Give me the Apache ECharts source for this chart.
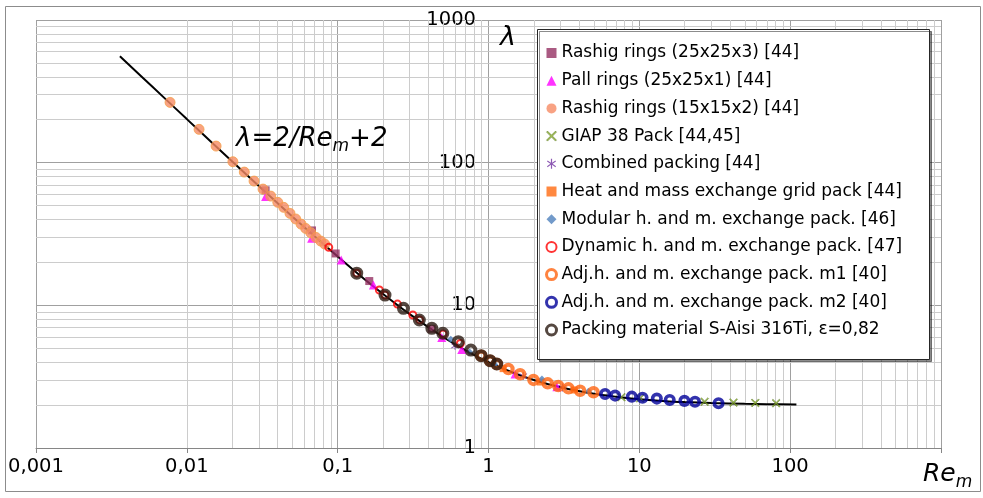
<!DOCTYPE html>
<html>
<head>
<meta charset="utf-8">
<script src="https://cdn.jsdelivr.net/npm/echarts@6/dist/echarts.min.js"></script>
<style>html,body{margin:0;padding:0;background:#fff}#c{width:983px;height:498px}</style>
</head>
<body>
<div id="c"></div>
<script>
// ---- data ----
const xTickLabels = ['0,001', '0,01', '0,1', '1', '10', '100', ''];
const yTickLabels = ['1', '10', '100', '1000'];

const curvePts = [[0.0036,557],[0.005,402],[0.007,288],[0.01,202],[0.015,135],[0.02,102],[0.03,68.7],[0.05,42],[0.07,30.6],[0.1,22],[0.15,15.3],[0.2,12],[0.3,8.67],[0.5,6],[0.7,4.86],[1,4],[1.5,3.33],[2,3],[3,2.67],[5,2.4],[7,2.29],[10,2.2],[15,2.13],[20,2.1],[30,2.07],[50,2.04],[70,2.03],[110,2.02]];

const rashig25 = [[0.0333,64],[0.0676,33.5],[0.097,23.1],[0.162,14.8],[0.42,6.85]];
const pall = [[0.0333,58],[0.0672,29.5],[0.1055,20.8],[0.1725,13.9],[0.49,5.95],[0.665,4.9],[1.5,3.3],[2.84,2.69]];
const rashig15 = [[0.00774,264.6],[0.01205,171.2],[0.01563,130.7],[0.0202,101.5],[0.02405,85.9],[0.0279,74.3],[0.032,65.3],[0.036,58.3],[0.0401,52.7],[0.0439,48.6],[0.0483,44.1],[0.0527,40.3],[0.0572,37.1],[0.0614,34.6],[0.0663,32.3],[0.0719,29.9],[0.0773,28.2],[0.082,26.9]];
const giap = [[7.6,2.27],[10.1,2.23],[27.1,2.11],[42.1,2.08],[58.7,2.07],[80.7,2.06]];
const combined = [[0.6,5.2],[1.7,3.2],[3.1,2.65]];
const heatMass = [[1.25,3.6],[2.2,2.9],[3.7,2.55]];
const modular = [[0.562,5.78],[0.75,4.7],[1.1,3.85],[2.26,3.05],[4.6,2.5]];
const dynamic = [[0.0873,25.5],[0.134,16.8],[0.189,12.8],[0.206,11.8],[0.249,10.2],[0.315,8.55],[0.35,7.9],[0.5,6.3],[0.65,5.4]];
const adjM1 = [[0.894,4.44],[1.025,4.09],[1.135,3.88],[1.355,3.58],[1.62,3.29],[1.986,3.0],[2.47,2.84],[2.9,2.72],[3.39,2.62],[4.05,2.52],[4.97,2.46]];
const adjM2 = [[5.93,2.39],[6.91,2.33],[8.91,2.29],[10.5,2.25],[13.06,2.22],[15.9,2.17],[19.9,2.14],[23.4,2.11],[33.5,2.06]];
const packing = [[0.1338,16.8],[0.206,11.8],[0.273,9.53],[0.348,7.89],[0.421,6.9],[0.498,6.37],[0.631,5.56],[0.764,4.86],[0.894,4.44],[1.025,4.09],[1.135,3.88]];

const names = [
  'Rashig rings (25x25x3) [44]',
  'Pall rings (25x25x1) [44]',
  'Rashig rings (15x15x2) [44]',
  'GIAP 38 Pack [44,45]',
  'Combined packing [44]',
  'Heat and mass exchange grid pack [44]',
  'Modular h. and m. exchange pack. [46]',
  'Dynamic h. and m. exchange pack. [47]',
  'Adj.h. and m. exchange pack. m1 [40]',
  'Adj.h. and m. exchange pack. m2 [40]',
  'Packing material S-Aisi 316Ti, \u03B5=0,82'
];

// minor grid positions (2..9 within each decade)
const xMinor = [], yMinor = [];
for (let e = -3; e < 3; e++) for (let k = 2; k <= 9; k++) xMinor.push(+(k * Math.pow(10, e)).toPrecision(3));
for (let e = 0; e < 3; e++) for (let k = 2; k <= 9; k++) yMinor.push(+(k * Math.pow(10, e)).toPrecision(3));

const FONT = 'DejaVu Sans';
const MAJOR = '#a0a0a0', MINOR = '#cccccc';

const xPath = 'path://M0,1 L1,0 L5,4 L9,0 L10,1 L6,5 L10,9 L9,10 L5,6 L1,10 L0,9 L4,5 Z';
const starPath = 'path://M4.4,0 H5.6 V4 L8.9,1.6 L9.5,2.6 L6.1,5 L9.5,7.4 L8.9,8.4 L5.6,6 V10 H4.4 V6 L1.1,8.4 L0.5,7.4 L3.9,5 L0.5,2.6 L1.1,1.6 L4.4,4 Z';

function sc(name, data, symbol, size, itemStyle, z) {
  return { name, type: 'scatter', data, symbol, symbolSize: size, itemStyle, z: z, animation: false };
}
const ring = (c, bw) => ({ color: 'rgba(0,0,0,0)', borderColor: c, borderWidth: bw });

const series = [
  {
    name: 'curve', type: 'line', data: curvePts, showSymbol: false, smooth: 0.3, z: 2,
    lineStyle: { color: '#000', width: 2 }, animation: false, silent: true,
    markLine: {
      silent: true, z: 1, symbol: ['none', 'none'], animation: false,
      label: { show: false },
      lineStyle: { color: MINOR, width: 1, type: 'solid' },
      emphasis: { disabled: true },
      data: xMinor.map(v => ({ xAxis: v })).concat(yMinor.map(v => ({ yAxis: v })))
    }
  },
  sc(names[0], rashig25, 'rect', 8, { color: '#953163' }, 3),
  sc(names[1], pall, 'triangle', 9, { color: '#ff00ff' }, 3),
  sc(names[2], rashig15, 'circle', 10, { color: '#f68b64', borderColor: '#f5a04a', borderWidth: 1 }, 3),
  sc(names[3], giap, xPath, 8, { color: '#8fb128', borderColor: '#4e6b1f', borderWidth: 0.6 }, 3),
  sc(names[4], combined, starPath, 8, { color: '#7030a0' }, 3),
  sc(names[5], heatMass, 'rect', 7, { color: '#ff6a10' }, 3),
  sc(names[6], modular, 'diamond', 7, { color: '#4f81bd' }, 3),
  sc(names[7], dynamic, 'circle', 7, ring('#ff0000', 2), 3),
  sc(names[8], adjM1, 'circle', 8.5, ring('#ff6410', 4), 3),
  sc(names[9], adjM2, 'circle', 8.5, ring('#000099', 3.6), 3),
  sc(names[10], packing, 'circle', 9, ring('#2a1a12', 4), 3)
];

const legendIcons = [
  { icon: 'rect', itemStyle: { color: '#953163' } },
  { icon: 'triangle', itemStyle: { color: '#ff00ff' } },
  { icon: 'circle', itemStyle: { color: '#f68b64', borderWidth: 0 } },
  { icon: xPath, itemStyle: { color: '#8fb128', borderColor: '#4e6b1f', borderWidth: 0.6 } },
  { icon: starPath, itemStyle: { color: '#7030a0' } },
  { icon: 'rect', itemStyle: { color: '#ff6a10' } },
  { icon: 'diamond', itemStyle: { color: '#4f81bd' } },
  { icon: 'circle', itemStyle: { color: 'rgba(0,0,0,0)', borderColor: '#ff0000', borderWidth: 2 } },
  { icon: 'circle', itemStyle: { color: 'rgba(0,0,0,0)', borderColor: '#ff6410', borderWidth: 3 } },
  { icon: 'circle', itemStyle: { color: 'rgba(0,0,0,0)', borderColor: '#000099', borderWidth: 3 } },
  { icon: 'circle', itemStyle: { color: 'rgba(0,0,0,0)', borderColor: '#2a1a12', borderWidth: 3 } }
];

const chart = echarts.init(document.getElementById('c'), null, { renderer: 'canvas' });
chart.setOption({
  animation: false,
  backgroundColor: '#fff',
  textStyle: { fontFamily: FONT },
  grid: { left: 36, right: 42, top: 20, bottom: 50, containLabel: false },
  xAxis: {
    type: 'log', logBase: 10, min: 0.001, max: 1000,
    axisLine: { show: true, onZero: false, lineStyle: { color: '#868686', width: 1 } },
    axisTick: { show: true, length: 5, lineStyle: { color: '#868686' } },
    axisLabel: {
      fontFamily: FONT, fontSize: 19.5, color: '#000', margin: 9,
      formatter: v => xTickLabels[Math.round(Math.log10(v)) + 3]
    },
    splitLine: { show: true, lineStyle: { color: MAJOR, width: 1 } },
    minorTick: { show: false }, minorSplitLine: { show: false }
  },
  yAxis: {
    type: 'log', logBase: 10, min: 1, max: 1000,
    axisLine: { show: false }, axisTick: { show: false },
    axisLabel: {
      fontFamily: FONT, fontSize: 19.5, color: '#000', margin: -440,
      formatter: v => yTickLabels[Math.round(Math.log10(v))]
    },
    splitLine: { show: true, lineStyle: { color: MAJOR, width: 1 } },
    minorTick: { show: false }, minorSplitLine: { show: false }
  },
  legend: {
    show: true, orient: 'vertical', left: 545, top: 43, z: 60,
    padding: 0, itemGap: 7.7, itemWidth: 10, itemHeight: 10,
    textStyle: { fontFamily: FONT, fontSize: 17, color: '#000', lineHeight: 20 },
    selectedMode: false,
    data: names.map((n, i) => Object.assign({ name: n }, legendIcons[i]))
  },
  graphic: [
    { type: 'rect', z: 0, silent: true, shape: { x: 5.5, y: 6.5, width: 975, height: 485 },
      style: { fill: 'none', stroke: '#8c8c8c', lineWidth: 1 } },
    { type: 'rect', z: 50, silent: true, shape: { x: 537.5, y: 29.5, width: 392, height: 330 },
      style: { fill: '#fff', stroke: '#262626', lineWidth: 1, shadowColor: 'rgba(0,0,0,0.45)', shadowOffsetX: 2, shadowOffsetY: 2, shadowBlur: 0 } },
    { type: 'text', z: 55, silent: true, left: 236, top: 126,
      style: {
        text: '{a|\u03BB=2/Re}{s|m}{a|+2}',
        rich: {
          a: { fontFamily: FONT, fontStyle: 'italic', fontSize: 26, color: '#000', verticalAlign: 'top', lineHeight: 30 },
          s: { fontFamily: FONT, fontStyle: 'italic', fontSize: 17, color: '#000', verticalAlign: 'top', lineHeight: 30, padding: [12, 0, 0, 0] }
        }
      } },
    { type: 'text', z: 55, silent: true, left: 500, top: 24,
      style: { text: '\u03BB', fontFamily: FONT, fontStyle: 'italic', fontSize: 27, fill: '#000' } },
    { type: 'text', z: 55, silent: true, left: 923, top: 462,
      style: {
        text: '{a|Re}{s|m}',
        rich: {
          a: { fontFamily: FONT, fontStyle: 'italic', fontSize: 25, color: '#000', verticalAlign: 'top', lineHeight: 30 },
          s: { fontFamily: FONT, fontStyle: 'italic', fontSize: 17, color: '#000', verticalAlign: 'top', lineHeight: 30, padding: [12, 0, 0, 0] }
        }
      } }
  ],
  series: series
});
</script>
</body>
</html>
